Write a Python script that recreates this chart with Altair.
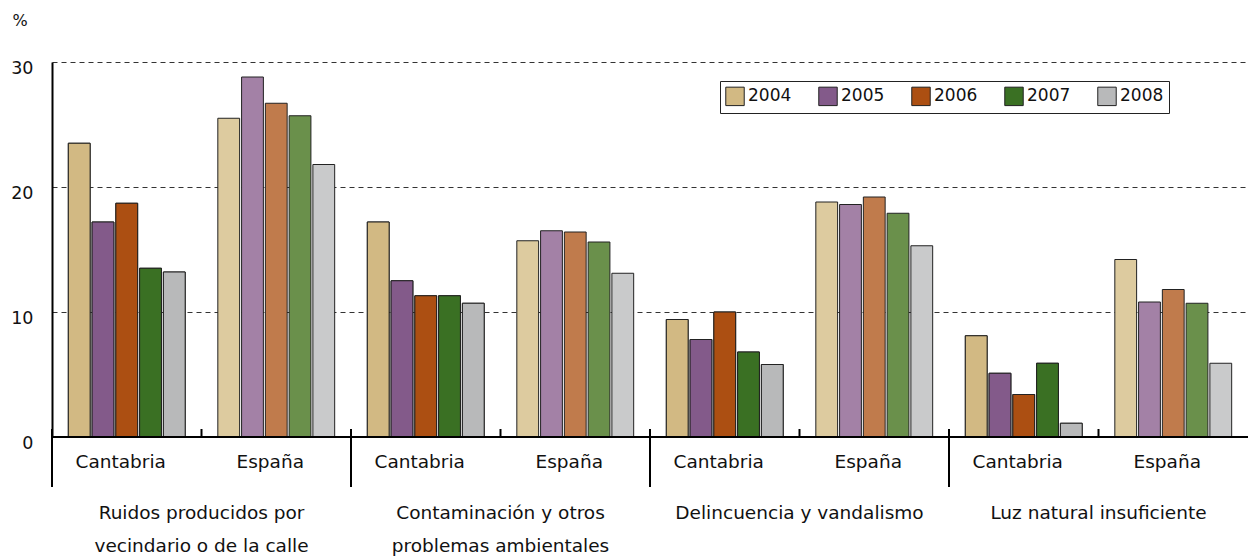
import altair as alt
import pandas as pd

groups = ["Ruidos producidos por\nvecindario o de la calle",
          "Contaminación y otros\nproblemas ambientales",
          "Delincuencia y vandalismo",
          "Luz natural insuficiente"]
group_ids = ["G1", "G2", "G3", "G4"]
regions = ["Cantabria", "España"]
years = ["2004", "2005", "2006", "2007", "2008"]

ruidos_cant = [23.5, 17.2, 18.7, 13.5, 13.2]
ruidos_esp = [25.5, 28.8, 26.7, 25.7, 21.8]
contam_cant = [17.2, 12.5, 11.3, 11.3, 10.7]
contam_esp = [15.7, 16.5, 16.4, 15.6, 13.1]
delinc_cant = [9.4, 7.8, 10.0, 6.8, 5.8]
delinc_esp = [18.8, 18.6, 19.2, 17.9, 15.3]
luz_cant = [8.1, 5.1, 3.4, 5.9, 1.1]
luz_esp = [14.2, 10.8, 11.8, 10.7, 5.9]

cant_colors = ["#D2B983", "#835A8A", "#AC4F12", "#3A7023", "#B8B9BA"]
esp_colors = ["#DDCB9F", "#A381A6", "#C07B4C", "#6A904B", "#C9CACB"]

series = [(ruidos_cant, ruidos_esp), (contam_cant, contam_esp),
          (delinc_cant, delinc_esp), (luz_cant, luz_esp)]

keys = [f"{g}_{r}" for g in group_ids for r in regions]
rows = []
for gid, (c, e) in zip(group_ids, series):
    for r, vals in zip(regions, (c, e)):
        for y, v in zip(years, vals):
            rows.append({"key": f"{gid}_{r}", "region": r, "year": y,
                         "ckey": f"{r}{y}", "value": v})
df = pd.DataFrame(rows)

ckeys = [f"Cantabria{y}" for y in years] + [f"España{y}" for y in years]
crange = cant_colors + esp_colors

FONT = "DejaVu Sans"
xscale = alt.Scale(domain=keys, paddingInner=0, paddingOuter=0)
yscale = alt.Scale(domain=[0, 30], nice=False)

x_axis = alt.Axis(title=None, labelExpr="slice(datum.value, 3)",
                  ticks=False, domain=False, labelPadding=15,
                  labelFontSize=18.5, labelFont=FONT, labelColor="#111",
                  labelAngle=0, labelOffset=-6, grid=False)
y_axis = alt.Axis(values=[0, 10, 20, 30], ticks=False, domain=True,
                  domainColor="black", domainWidth=2,
                  grid=True, gridDash=[5, 4], gridColor="#333",
                  gridWidth=1, labelPadding=19, labelFontSize=17.5,
                  labelFont=FONT, labelColor="#111", labelOffset=6,
                  title="%", titleAngle=0, titleX=-40, titleY=-42,
                  titleAlign="left", titleBaseline="middle",
                  titleFontSize=16, titleFont=FONT, titleFontWeight="normal",
                  titleColor="#111")

xoff_scale = alt.Scale(domain=years, paddingInner=0.083, paddingOuter=0.687)

bars_all = alt.Chart(df).mark_bar(stroke="#222", strokeWidth=1).encode(
    x=alt.X("key:N", scale=xscale, axis=x_axis),
    xOffset=alt.XOffset("year:N", scale=xoff_scale),
    y=alt.Y("value:Q", scale=yscale, axis=y_axis),
    color=alt.Color("ckey:N", scale=alt.Scale(domain=ckeys, range=crange), legend=None),
)

bars_cant = alt.Chart(df).transform_filter(
    alt.datum.region == "Cantabria"
).mark_bar(stroke="#222", strokeWidth=1).encode(
    x=alt.X("key:N", scale=xscale, axis=x_axis),
    xOffset=alt.XOffset("year:N", scale=xoff_scale),
    y=alt.Y("value:Q", scale=yscale, axis=y_axis),
    color=alt.Color("year:N", scale=alt.Scale(domain=years, range=cant_colors),
                    legend=alt.Legend(title=None, orient="none", legendX=668, legendY=19,
                                      direction="horizontal", columns=5,
                                      symbolType="square", symbolSize=340,
                                      symbolStrokeColor="#222", symbolStrokeWidth=1,
                                      labelFontSize=17, labelFont=FONT, labelColor="#111",
                                      labelOffset=3, columnPadding=24,
                                      strokeColor="#222", fillColor="white",
                                      padding=5)),
)

zero_df = pd.DataFrame({"v": [0]})
zero_line = alt.Chart(zero_df).mark_rule(color="black", strokeWidth=2).encode(
    y=alt.Y("v:Q", scale=yscale, axis=y_axis)
)

sep_df = pd.DataFrame({"key": [f"{g}_Cantabria" for g in group_ids]})
separators = alt.Chart(sep_df).mark_rule(color="black", strokeWidth=2).encode(
    x=alt.X("key:N", scale=xscale, axis=x_axis, bandPosition=0),
    y=alt.value(367), y2=alt.value(425)
)

sub_df = pd.DataFrame({"key": [f"{g}_España" for g in group_ids]})
subticks = alt.Chart(sub_df).mark_rule(color="black", strokeWidth=2).encode(
    x=alt.X("key:N", scale=xscale, axis=x_axis, bandPosition=0),
    y=alt.value(367), y2=alt.value(375)
)

lab_df = pd.DataFrame({"key": [f"{g}_España" for g in group_ids], "label": groups})
group_labels = alt.Chart(lab_df).mark_text(
    font=FONT, fontSize=18.5, color="#111", lineBreak="\n", lineHeight=33,
    baseline="top", align="center"
).encode(
    x=alt.X("key:N", scale=xscale, axis=x_axis, bandPosition=0),
    y=alt.value(442),
    text="label:N"
)

chart = alt.layer(bars_all, bars_cant, zero_line, separators, subticks, group_labels).resolve_scale(
    color="independent"
).properties(
    width=1196, height=375,
    autosize=alt.AutoSizeParams(type="none"),
    padding={"left": 44, "top": 54, "right": 0, "bottom": 119},
).configure_view(stroke=None)

chart.save("out.html", embed_options={"renderer": "svg", "actions": False})
